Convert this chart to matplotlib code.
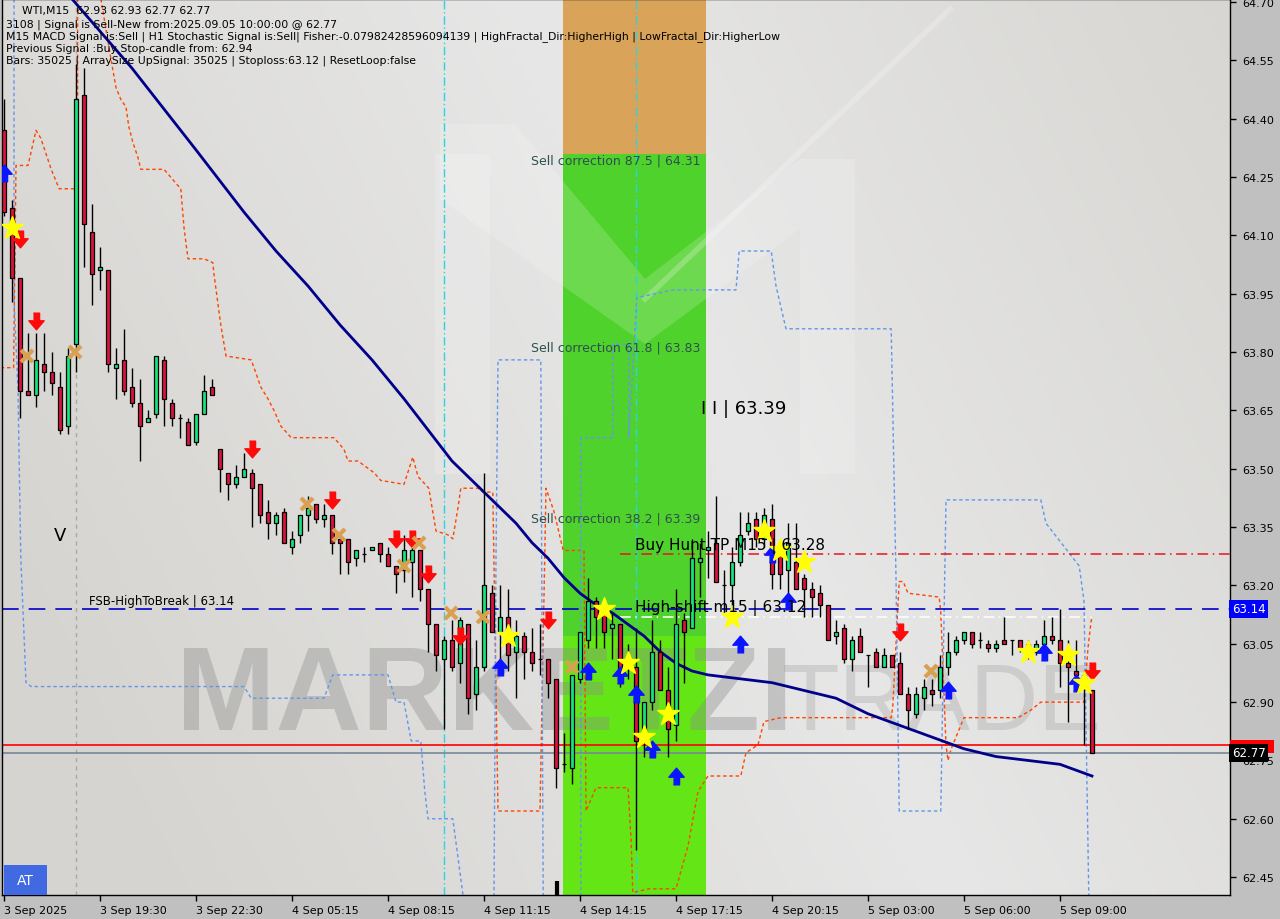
import matplotlib
matplotlib.use("Agg")
import matplotlib.pyplot as plt
import numpy as np

plt.rcParams['font.family'] = ['DejaVu Sans']

# ---- WTI M15 candles (bar index 0..136) ----
opens = [64.37, 64.17, 63.99, 63.70, 63.69, 63.77, 63.75, 63.71, 63.61, 63.82,
         64.46, 64.11, 64.01, 64.01, 63.76, 63.78, 63.71, 63.67, 63.62, 63.64,
         63.78, 63.67, 63.63, 63.62, 63.57, 63.64, 63.71, 63.55, 63.49, 63.46,
         63.48, 63.49, 63.46, 63.39, 63.36, 63.39, 63.30, 63.33, 63.38, 63.41,
         63.37, 63.38, 63.32, 63.32, 63.27, 63.28, 63.29, 63.31, 63.28, 63.25,
         63.24, 63.26, 63.29, 63.19, 63.10, 63.01, 63.06, 63.00, 63.10, 62.92,
         62.99, 63.18, 63.08, 63.12, 63.03, 63.07, 63.03, 63.01, 63.01, 62.96,
         62.74, 62.73, 62.96, 63.06, 63.16, 63.13, 63.09, 63.10, 63.01, 62.99,
         62.80, 62.90, 63.03, 62.93, 62.84, 63.11, 63.09, 63.26, 63.29, 63.31,
         63.20, 63.20, 63.26, 63.34, 63.37, 63.32, 63.37, 63.29, 63.24, 63.26,
         63.22, 63.19, 63.18, 63.15, 63.07, 63.09, 63.01, 63.07, 63.02, 63.03,
         62.99, 63.02, 63.00, 62.92, 62.87, 62.91, 62.93, 62.93, 62.99, 63.03,
         63.06, 63.08, 63.06, 63.05, 63.04, 63.06, 63.06, 63.06, 63.05, 63.03,
         63.05, 63.07, 63.06, 63.00, 62.98, 62.97, 62.93]
highs = [64.45, 64.19, 63.99, 63.85, 63.85, 63.85, 63.80, 63.75, 63.81, 64.54,
         64.53, 64.18, 64.07, 64.01, 63.81, 63.86, 63.76, 63.73, 63.65, 63.79,
         63.79, 63.68, 63.64, 63.63, 63.64, 63.74, 63.73, 63.55, 63.49, 63.51,
         63.54, 63.50, 63.46, 63.42, 63.39, 63.40, 63.34, 63.38, 63.43, 63.41,
         63.41, 63.38, 63.32, 63.32, 63.29, 63.30, 63.30, 63.31, 63.30, 63.25,
         63.33, 63.31, 63.29, 63.19, 63.10, 63.07, 63.11, 63.12, 63.10, 63.06,
         63.49, 63.20, 63.20, 63.19, 63.11, 63.08, 63.09, 63.10, 63.01, 62.96,
         62.82, 62.97, 63.08, 63.22, 63.17, 63.13, 63.13, 63.10, 63.05, 63.09,
         62.90, 63.11, 63.06, 62.99, 63.19, 63.13, 63.32, 63.31, 63.34, 63.43,
         63.24, 63.30, 63.39, 63.39, 63.39, 63.40, 63.41, 63.30, 63.36, 63.36,
         63.23, 63.21, 63.20, 63.15, 63.11, 63.10, 63.07, 63.09, 63.02, 63.04,
         63.04, 63.02, 63.03, 62.94, 62.94, 62.96, 62.96, 63.02, 63.08, 63.07,
         63.08, 63.08, 63.08, 63.06, 63.06, 63.12, 63.06, 63.06, 63.06, 63.06,
         63.11, 63.12, 63.14, 63.06, 63.06, 62.98, 62.93]
lows = [64.15, 63.93, 63.63, 63.69, 63.66, 63.70, 63.69, 63.59, 63.59, 63.75,
        64.02, 63.92, 63.96, 63.75, 63.68, 63.69, 63.66, 63.52, 63.62, 63.63,
        63.61, 63.61, 63.58, 63.56, 63.56, 63.64, 63.69, 63.44, 63.42, 63.45,
        63.48, 63.35, 63.36, 63.32, 63.33, 63.31, 63.28, 63.31, 63.34, 63.36,
        63.35, 63.28, 63.23, 63.23, 63.25, 63.26, 63.29, 63.26, 63.25, 63.18,
        63.21, 63.17, 63.16, 63.03, 62.98, 62.83, 62.98, 62.95, 62.87, 62.88,
        62.98, 63.08, 63.00, 62.98, 62.91, 62.96, 62.98, 62.97, 62.91, 62.68,
        62.72, 62.69, 62.95, 63.04, 63.04, 63.04, 63.01, 62.94, 62.96, 62.52,
        62.76, 62.88, 62.93, 62.76, 62.80, 62.95, 63.09, 63.17, 63.22, 63.21,
        63.13, 63.12, 63.25, 63.33, 63.30, 63.30, 63.19, 63.19, 63.18, 63.19,
        63.12, 63.12, 63.12, 63.06, 63.05, 63.00, 62.98, 63.03, 62.94, 62.99,
        62.99, 62.99, 62.92, 62.83, 62.86, 62.88, 62.89, 62.91, 62.97, 63.02,
        63.05, 63.04, 63.04, 63.03, 63.03, 63.05, 63.02, 63.03, 63.01, 63.02,
        63.05, 63.05, 62.94, 62.85, 62.95, 62.79, 62.77]
closes = [64.16, 63.99, 63.70, 63.69, 63.78, 63.75, 63.72, 63.60, 63.79, 64.45,
          64.13, 64.00, 64.02, 63.77, 63.77, 63.70, 63.67, 63.61, 63.63, 63.79,
          63.68, 63.63, 63.63, 63.56, 63.64, 63.70, 63.69, 63.50, 63.46, 63.48,
          63.50, 63.45, 63.38, 63.36, 63.38, 63.31, 63.32, 63.38, 63.40, 63.37,
          63.38, 63.31, 63.31, 63.26, 63.29, 63.28, 63.30, 63.28, 63.25, 63.23,
          63.29, 63.29, 63.19, 63.10, 63.02, 63.06, 62.99, 63.11, 62.91, 62.99,
          63.20, 63.08, 63.12, 63.02, 63.07, 63.03, 63.00, 63.01, 62.95, 62.73,
          62.74, 62.97, 63.08, 63.16, 63.12, 63.08, 63.10, 62.98, 62.99, 62.80,
          62.90, 63.03, 62.93, 62.83, 63.10, 63.08, 63.27, 63.27, 63.30, 63.21,
          63.20, 63.26, 63.33, 63.36, 63.32, 63.38, 63.23, 63.23, 63.31, 63.19,
          63.19, 63.17, 63.15, 63.06, 63.08, 63.01, 63.06, 63.03, 63.02, 62.99,
          63.02, 62.99, 62.92, 62.88, 62.92, 62.94, 62.92, 62.99, 63.03, 63.06,
          63.08, 63.05, 63.06, 63.04, 63.05, 63.05, 63.06, 63.04, 63.03, 63.05,
          63.07, 63.06, 63.00, 62.99, 62.97, 62.96, 62.77]

# moving average (read every few bars)
ma_idx = [8, 16, 24, 30, 34, 38, 42, 46, 50, 53, 56, 58, 60, 62, 64, 66, 68, 70,
          72, 74, 76, 78, 80, 82, 84, 86, 88, 92, 96, 100, 104, 108, 112, 116,
          120, 124, 128, 132, 136]
ma_val = [64.72, 64.53, 64.32, 64.16, 64.06, 63.97, 63.87, 63.78, 63.68, 63.60,
          63.52, 63.48, 63.44, 63.40, 63.36, 63.31, 63.27, 63.22, 63.18, 63.15,
          63.13, 63.10, 63.07, 63.03, 63.00, 62.98, 62.97, 62.96, 62.95, 62.93,
          62.91, 62.87, 62.84, 62.81, 62.78, 62.76, 62.75, 62.74, 62.71]

# orange-red stepped channel lines
orA_idx = [-0.4, 1.2, 1.5, 3, 4, 4.6, 5.9, 6.9, 9.2, 9.2]
orA_val = [63.76, 63.76, 64.28, 64.28, 64.37, 64.35, 64.27, 64.22, 64.22, 64.72]
orB_idx = [12.1, 13.4, 14, 14.6, 15.25, 15.6, 16.1, 16.75, 17.1, 20,
           21.25, 22.1, 22.5, 23, 25, 26.1, 26.25, 27.1, 27.75, 30.9,
           31.25, 32.1, 33, 33.75, 34.6, 35.9, 41.25, 42.5, 43, 44.25,
           46.25, 47.1, 50, 51.1, 51.75, 53.1, 54, 55.5, 56.1, 56.75,
           57.1, 59.25, 59.9, 61.1, 61.75, 67, 67.75, 68.75, 69.9, 72.5,
           72.75, 74, 78, 78.4, 78.6, 80.6, 84, 85.5, 86.75, 88,
           92.1, 92.75, 94.25, 95, 97.1, 98, 110.9, 111.1, 111.9, 112.4,
           113, 116.9, 117.1, 117.75, 118, 118.4, 120, 126.75, 128.4, 129.6,
           135, 135.5, 135.9, 136.1]
orB_val = [64.71, 64.55, 64.48, 64.45, 64.43, 64.38, 64.34, 64.30, 64.27, 64.27,
           64.24, 64.22, 64.12, 64.04, 64.04, 64.03, 64.00, 63.87, 63.79, 63.78,
           63.76, 63.71, 63.68, 63.65, 63.61, 63.58, 63.58, 63.55, 63.52, 63.52,
           63.49, 63.47, 63.46, 63.53, 63.48, 63.45, 63.34, 63.33, 63.32, 63.40,
           63.45, 63.45, 63.44, 63.44, 62.62, 62.62, 63.45, 63.39, 63.29, 63.29,
           62.62, 62.68, 62.68, 62.54, 62.41, 62.42, 62.42, 62.53, 62.67, 62.71,
           62.71, 62.77, 62.79, 62.85, 62.86, 62.86, 62.86, 62.89, 63.21, 63.21,
           63.18, 63.17, 63.13, 62.79, 62.75, 62.78, 62.86, 62.86, 62.88, 62.90,
           62.90, 63.04, 63.11, 63.12]

# light-blue stepped channel lines
bl1_idx = [1.25, 1.25, 1.75, 2.1, 2.75, 3.4, 30, 30.9, 40, 41.1,
           48, 49, 50, 50.9, 52.1, 52.6, 53, 56.1, 56.75, 57.4]
bl1_val = [64.71, 63.94, 63.70, 63.27, 62.95, 62.94, 62.94, 62.91, 62.91, 62.97,
           62.97, 62.90, 62.90, 62.80, 62.80, 62.67, 62.60, 62.60, 62.50, 62.40]
bl2_idx = [61.25, 61.5, 61.75, 67.1, 67.4]
bl2_val = [62.40, 63.27, 63.78, 63.78, 62.40]
bl3_idx = [72.1, 72.1, 76.1, 76.1, 78.1, 78.1, 79.1, 83.6, 91.5, 91.9,
           95.9, 96.5, 97.75, 110.9, 111.5, 111.9, 117.1, 117.75, 129.6, 130.25,
           134.4, 135, 135.6]
bl3_val = [62.40, 63.58, 63.58, 63.82, 63.82, 63.58, 63.94, 63.96, 63.96, 64.06,
           64.06, 63.97, 63.86, 63.86, 63.22, 62.62, 62.62, 63.42, 63.42, 63.36,
           63.25, 63.16, 62.40]

# signal markers
sell_idx = [2, 4, 31, 41, 49, 51, 53, 57, 68, 112, 136]
sell_val = [64.09, 63.88, 63.55, 63.42, 63.32, 63.32, 63.23, 63.07, 63.11, 63.08, 62.98]
buy_idx = [0, 62, 73, 77, 79, 81, 84, 92, 96, 98, 118, 130, 134]
buy_val = [64.26, 62.99, 62.98, 62.97, 62.92, 62.78, 62.71, 63.05, 63.28, 63.16,
           62.93, 63.03, 62.95]
star_idx = [1, 63, 75, 78, 80, 83, 91, 95, 97, 100, 128, 133, 135]
star_val = [64.12, 63.07, 63.14, 63.00, 62.81, 62.87, 63.12, 63.34, 63.29, 63.26,
            63.03, 63.02, 62.95]
cross_idx = [2.9, 8.9, 37.9, 41.9, 50, 51.9, 55.9, 59.9, 71, 115.9]
cross_val = [63.79, 63.80, 63.41, 63.33, 63.25, 63.31, 63.13, 63.12, 62.99, 62.98]

# levels / zones
fsb_high = 63.14
buy_hunt_tp = 63.28
high_shift = 63.12
ask_price = 62.79
bid_price = 62.77
zone_x = [69.9, 87.75]
zone_top, zone_mid = 64.31, 63.07
corr_levels = [(64.31, "Sell correction 87.5 | 64.31"),
               (63.83, "Sell correction 61.8 | 63.83"),
               (63.39, "Sell correction 38.2 | 63.39")]
vlines_cyan = [55, 79]
vline_gray = 9

price_ticks = [62.45, 62.60, 62.75, 62.90, 63.05, 63.20, 63.35, 63.50,
               63.65, 63.80, 63.95, 64.10, 64.25, 64.40, 64.55, 64.70]
time_ticks = [0, 12, 24, 36, 48, 60, 72, 84, 96, 108, 120, 132]
time_labels = ["3 Sep 2025", "3 Sep 19:30", "3 Sep 22:30", "4 Sep 05:15",
               "4 Sep 08:15", "4 Sep 11:15", "4 Sep 14:15", "4 Sep 17:15",
               "4 Sep 20:15", "5 Sep 03:00", "5 Sep 06:00", "5 Sep 09:00"]

header = ["WTI,M15  62.93 62.93 62.77 62.77",
          "3108 | Signal is Sell-New from:2025.09.05 10:00:00 @ 62.77",
          "M15 MACD Signal is:Sell | H1 Stochastic Signal is:Sell| Fisher:-0.07982428596094139 | "
          "HighFractal_Dir:HigherHigh | LowFractal_Dir:HigherLow",
          "Previous Signal :Buy Stop-candle from: 62.94",
          "Bars: 35025 | ArraySize UpSignal: 35025 | Stoploss:63.12 | ResetLoop:false"]

fig = plt.figure(figsize=(12.8, 9.2), dpi=100, facecolor='#c0c0c0')
ax = fig.add_axes([2 / 1280, 24 / 920, 1228 / 1280, 896 / 920])
ax.set_xlim(-0.25, 153.25)
ax.set_ylim(62.404, 64.708)

# background gradient
yy, xx = np.mgrid[0:1:200j, 0:1:300j]
g = np.clip(1 - np.abs(xx - 0.6 + 0.35 * (yy - 0.5)) * 1.6, 0, 1)
c0 = np.array([0.84, 0.835, 0.82])
c1 = np.array([0.905, 0.905, 0.905])
bg = c0 + (c1 - c0) * g[..., None]
ax.imshow(bg, extent=[0, 1, 0, 1], transform=ax.transAxes, aspect='auto',
          origin='lower', zorder=0)

# zone
ax.fill_between(zone_x, zone_top, 64.8, color='#d9a35a', lw=0, zorder=1)
ax.fill_between(zone_x, zone_mid, zone_top, color='#50d22c', lw=0, zorder=1)
ax.fill_between(zone_x, 62.3, zone_mid, color='#64e616', lw=0, zorder=1)

# watermark logo (axes fraction from pixel layout)
def px(x, y):
    return ((x - 2) / 1228, 1 - y / 896)

wm = dict(transform=ax.transAxes, facecolor='white', alpha=0.17, lw=0, zorder=1.5)
for poly in ([(435, 155), (490, 155), (490, 475), (435, 475)],
             [(800, 160), (855, 160), (855, 475), (800, 475)],
             [(440, 125), (515, 125), (645, 280), (800, 160), (800, 230),
              (645, 345), (440, 200)]):
    ax.add_patch(plt.Polygon([px(*p) for p in poly], **wm))
ax.plot(*zip(px(645, 300), px(950, 10)), transform=ax.transAxes, color='white',
        alpha=0.22, lw=4, zorder=1.5)
ax.text(*px(176, 730), "MARKETZI", transform=ax.transAxes, fontsize=86,
        family='Liberation Sans', fontweight='bold', color='#8c8c8c', alpha=0.38,
        ha='left', va='baseline', zorder=1.6)
ax.text(*px(782, 730), "TRADE", transform=ax.transAxes, fontsize=68,
        family='Liberation Sans', color='#9a9a9a', alpha=0.3,
        ha='left', va='baseline', zorder=1.6)

# vertical marker lines
ax.axvline(vline_gray, color='#a8a8a8', lw=1, ls=(0, (3, 3)), zorder=2)
for v in vlines_cyan:
    ax.axvline(v, color='#2ad4e0', lw=1, ls=(0, (6, 2, 1, 2)), zorder=2)

# channels
dash = (0, (2.5, 2))
ax.plot(orA_idx, orA_val, color='#ff4500', lw=1, ls=dash, zorder=2)
ax.plot(orB_idx, orB_val, color='#ff4500', lw=1, ls=dash, zorder=2)
for bi, bv in ((bl1_idx, bl1_val), (bl2_idx, bl2_val), (bl3_idx, bl3_val)):
    ax.plot(bi, bv, color='#6495ed', lw=1, ls=dash, zorder=2)

# horizontal levels
ax.axhline(fsb_high, color='#0000c8', lw=1.2, ls=(0, (10, 6)), zorder=2.5)
ax.plot([77, 153.25], [buy_hunt_tp] * 2, color='#e8141e', lw=1.1,
        ls=(0, (7, 3, 1, 3)), zorder=2.5)
ax.plot([77, 136], [high_shift] * 2, color='white', lw=1.1,
        ls=(0, (7, 3, 1, 3)), zorder=2.5)
ax.axhline(ask_price, color='#ff0000', lw=1.2, zorder=2.5)
ax.axhline(bid_price, color='#778899', lw=1.2, zorder=2.5)
ax.vlines(69.1, 62.404, 62.44, color='black', lw=3, zorder=2.5)

# MA
ax.plot(ma_idx, ma_val, color='#00008b', lw=2, zorder=3)

# candles
idx = np.arange(len(opens))
o, h, l, c = map(np.array, (opens, highs, lows, closes))
cols = np.where(c > o, '#14e67a', np.where(c < o, '#dc143c', 'black'))
ax.vlines(idx, l, h, color='black', lw=1, zorder=3.5)
ax.bar(idx, c - o, bottom=o, width=0.62, color=cols, edgecolor='black',
       lw=0.9, zorder=4)

# signal markers
down_arrow = [(-0.22, 0.6), (0.22, 0.6), (0.22, 0.05), (0.55, 0.05),
              (0, -0.6), (-0.55, 0.05), (-0.22, 0.05)]
up_arrow = [(x, -y) for x, y in down_arrow]
ax.plot(sell_idx, sell_val, ls='', marker=down_arrow, ms=12, color='#ff0a0a',
        mec='#ff0a0a', zorder=5)
ax.plot(buy_idx, buy_val, ls='', marker=up_arrow, ms=12, color='#0a14ff',
        mec='#0a14ff', zorder=5)
ax.plot(star_idx, star_val, ls='', marker='*', ms=17, color='#ffff00',
        mec='#ffff00', zorder=5)
ax.plot(cross_idx, cross_val, ls='', marker='x', ms=9, mew=3, color='#d9a050',
        zorder=5)

# labels on chart
for lvl, txt in corr_levels:
    ax.text(65.9, lvl, txt, fontsize=9, color='#2f4f4f', ha='left', va='top', zorder=6)
ax.text(87.1, 63.655, "I I | 63.39", fontsize=13, color='black', ha='left',
        va='center', zorder=6)
ax.text(78.9, buy_hunt_tp + 0.004, "Buy Hunt TP M15 | 63.28", fontsize=11,
        color='black', ha='left', va='bottom', zorder=6)
ax.text(78.9, high_shift + 0.004, "High-shift m15 | 63.12", fontsize=11,
        color='black', ha='left', va='bottom', zorder=6)
ax.text(10.6, fsb_high + 0.004, "FSB-HighToBreak | 63.14", fontsize=8.5,
        color='black', ha='left', va='bottom', zorder=6)
ax.text(6.2, 63.33, "V", fontsize=13, color='black', ha='left', va='center', zorder=6)

# header text
hy = [11, 25, 37, 49, 61]
hx = [22, 6, 6, 6, 6]
for t, x0, y0 in zip(header, hx, hy):
    ax.text(*px(x0, y0), t, transform=ax.transAxes, fontsize=7.8, color='black',
            ha='left', va='center', zorder=7)

# AT button
ax.add_patch(plt.Rectangle(px(4, 896), 43 / 1228, 30 / 896, transform=ax.transAxes,
                           facecolor='#4169e1', lw=0, zorder=7))
ax.text(*px(25.5, 881), "AT", transform=ax.transAxes, fontsize=10, color='white',
        ha='center', va='center', zorder=8)

# axes styling
for s in ax.spines.values():
    s.set_color('black')
    s.set_linewidth(1)
ax.yaxis.tick_right()
ax.set_yticks(price_ticks)
ax.set_yticklabels([f"{p:.2f}" for p in price_ticks])
ax.set_xticks(time_ticks)
ax.set_xticklabels(time_labels)
ax.tick_params(axis='both', colors='black', labelsize=8, length=4, width=1,
               direction='out')
ax.tick_params(axis='y', pad=5)
ax.tick_params(axis='x', pad=3)
for lbl in ax.get_xticklabels():
    lbl.set_ha('left')

# price tags on the scale
ytr = ax.get_yaxis_transform()
ax.add_patch(plt.Rectangle((1.0, bid_price), 0.036, ask_price - bid_price + 0.012,
                           transform=ytr, facecolor='#ff0000', lw=0,
                           clip_on=False, zorder=9))
ax.text(1.0015, bid_price, f"{bid_price:.2f}", transform=ytr, fontsize=8.5,
        color='white', ha='left', va='center', clip_on=False, zorder=10,
        bbox=dict(boxstyle='square,pad=0.22', fc='black', ec='none'))
ax.text(1.0015, fsb_high, f"{fsb_high:.2f}", transform=ytr, fontsize=8.5,
        color='white', ha='left', va='center', clip_on=False, zorder=10,
        bbox=dict(boxstyle='square,pad=0.22', fc='#0000ff', ec='none'))

fig.savefig('out.png', dpi=100, facecolor=fig.get_facecolor())
